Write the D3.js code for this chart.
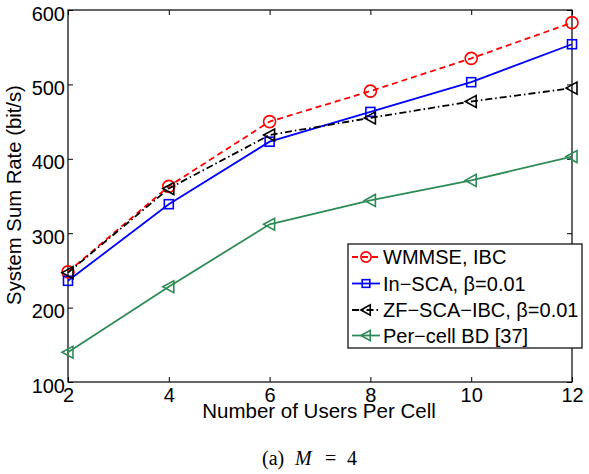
<!DOCTYPE html>
<html><head><meta charset="utf-8">
<script src="https://cdn.jsdelivr.net/npm/d3@7"></script>
<style>body{margin:0;background:#fff}svg{display:block}</style>
</head><body>
<svg id="c" width="589" height="474"></svg>
<script>
const users = [2, 4, 6, 8, 10, 12];
const wmmse = [248, 363, 450, 491, 535, 583];
const inSCA = [236, 339, 423, 463, 503, 554];
const zfSCA = [247, 360, 432, 455, 477, 495];
const perCell = [140, 228, 312, 344, 371, 403];
const xTicks = [2, 4, 6, 8, 10, 12];
const yTicks = [100, 200, 300, 400, 500, 600];
const seriesNames = ["WMMSE, IBC", "In\u2212SCA, \u03b2=0.01", "ZF\u2212SCA\u2212IBC, \u03b2=0.01", "Per\u2212cell BD [37]"];

const series = [
  {name: seriesNames[0], vals: wmmse, color: "#ff0000", dash: "6,4", marker: "circle"},
  {name: seriesNames[1], vals: inSCA, color: "#0000ff", dash: null, marker: "square"},
  {name: seriesNames[2], vals: zfSCA, color: "#000000", dash: "7,3,1.5,3", marker: "tri"},
  {name: seriesNames[3], vals: perCell, color: "#2e8b57", dash: null, marker: "tri"}
];

const svg = d3.select("#c");
const L = 68, R = 572, T = 10, B = 382;
const x = d3.scaleLinear().domain([2, 12]).range([L, R]);
const y = d3.scaleLinear().domain([100, 600]).range([B, T]);
const font = "'Liberation Sans', Arial, Helvetica, sans-serif";

// box
svg.append("rect").attr("x", L).attr("y", T).attr("width", R - L).attr("height", B - T)
  .attr("fill", "none").attr("stroke", "#000").attr("stroke-width", 1.2);

// axes
const xb = svg.append("g").attr("transform", `translate(0,${B})`)
  .call(d3.axisBottom(x).tickValues(xTicks).tickSize(-5).tickPadding(0).tickFormat(d3.format("d")));
const xt = svg.append("g").attr("transform", `translate(0,${T})`)
  .call(d3.axisTop(x).tickValues(xTicks).tickSize(-5).tickFormat(""));
const yl = svg.append("g").attr("transform", `translate(${L},0)`)
  .call(d3.axisLeft(y).tickValues(yTicks).tickSize(-5).tickPadding(3).tickFormat(d3.format("d")));
const yr = svg.append("g").attr("transform", `translate(${R},0)`)
  .call(d3.axisRight(y).tickValues(yTicks).tickSize(-5).tickFormat(""));
[xb, xt, yl, yr].forEach(g => {
  g.select(".domain").remove();
  g.selectAll(".tick line").attr("stroke", "#000").attr("stroke-width", 1);
  g.selectAll("text").attr("font-family", font).attr("font-size", 20).attr("fill", "#000");
});
xb.selectAll("text").attr("y", 20).attr("dy", 0);
yl.selectAll("text").attr("dy", "0.5em");

// labels
svg.append("text").attr("x", 319).attr("y", 418).attr("text-anchor", "middle")
  .attr("font-family", font).attr("font-size", 20.5).text("Number of Users Per Cell");
svg.append("text").attr("transform", "translate(21,195) rotate(-90)").attr("text-anchor", "middle")
  .attr("font-family", font).attr("font-size", 20.3).text("System Sum Rate (bit/s)");

// caption
const capFont = "'Liberation Serif', 'Times New Roman', serif";
const capParts = [{t: "(a)", x: 262, it: false}, {t: "M", x: 295, it: true}, {t: "=", x: 325, it: false}, {t: "4", x: 347, it: false}];
capParts.forEach(p => {
  svg.append("text").attr("x", p.x).attr("y", 465).attr("font-family", capFont)
    .attr("font-size", 20).attr("font-style", p.it ? "italic" : "normal").text(p.t);
});

function drawMarker(g, type, cx, cy, color, s) {
  s = s || 1;
  if (type === "circle") {
    g.append("circle").attr("cx", cx).attr("cy", cy).attr("r", 6 * s)
      .attr("fill", "none").attr("stroke", color).attr("stroke-width", 1.6);
  } else if (type === "square") {
    g.append("rect").attr("x", cx - 4.5 * s).attr("y", cy - 4.5 * s).attr("width", 9 * s).attr("height", 9 * s)
      .attr("fill", "none").attr("stroke", color).attr("stroke-width", 1.6);
  } else {
    g.append("path").attr("d", `M${cx - 6 * s},${cy} L${cx + 5 * s},${cy - 6 * s} L${cx + 5 * s},${cy + 6 * s} Z`)
      .attr("fill", "none").attr("stroke", color).attr("stroke-width", 1.6);
  }
}

const line = d3.line().x((d, i) => x(users[i])).y(d => y(d));
series.forEach(s => {
  svg.append("path").datum(s.vals).attr("d", line).attr("fill", "none")
    .attr("stroke", s.color).attr("stroke-width", 1.8)
    .attr("stroke-dasharray", s.dash);
  const g = svg.append("g");
  s.vals.forEach((v, i) => drawMarker(g, s.marker, x(users[i]), y(v), s.color));
});

// legend
const lg = svg.append("g");
lg.append("rect").attr("x", 348).attr("y", 244).attr("width", 234).attr("height", 104)
  .attr("fill", "#fff").attr("stroke", "#000").attr("stroke-width", 1.2);
const rowY = [257, 283.5, 310, 335.5];
series.forEach((s, i) => {
  const yy = rowY[i];
  lg.append("line").attr("x1", 352).attr("x2", 380).attr("y1", yy).attr("y2", yy)
    .attr("stroke", s.color).attr("stroke-width", 1.8).attr("stroke-dasharray", s.dash);
  drawMarker(lg, s.marker, 366, yy, s.color, 0.85);
  lg.append("text").attr("x", 383).attr("y", yy).attr("dy", "0.36em")
    .attr("font-family", font).attr("font-size", 20).text(s.name);
});
</script>
</body></html>
